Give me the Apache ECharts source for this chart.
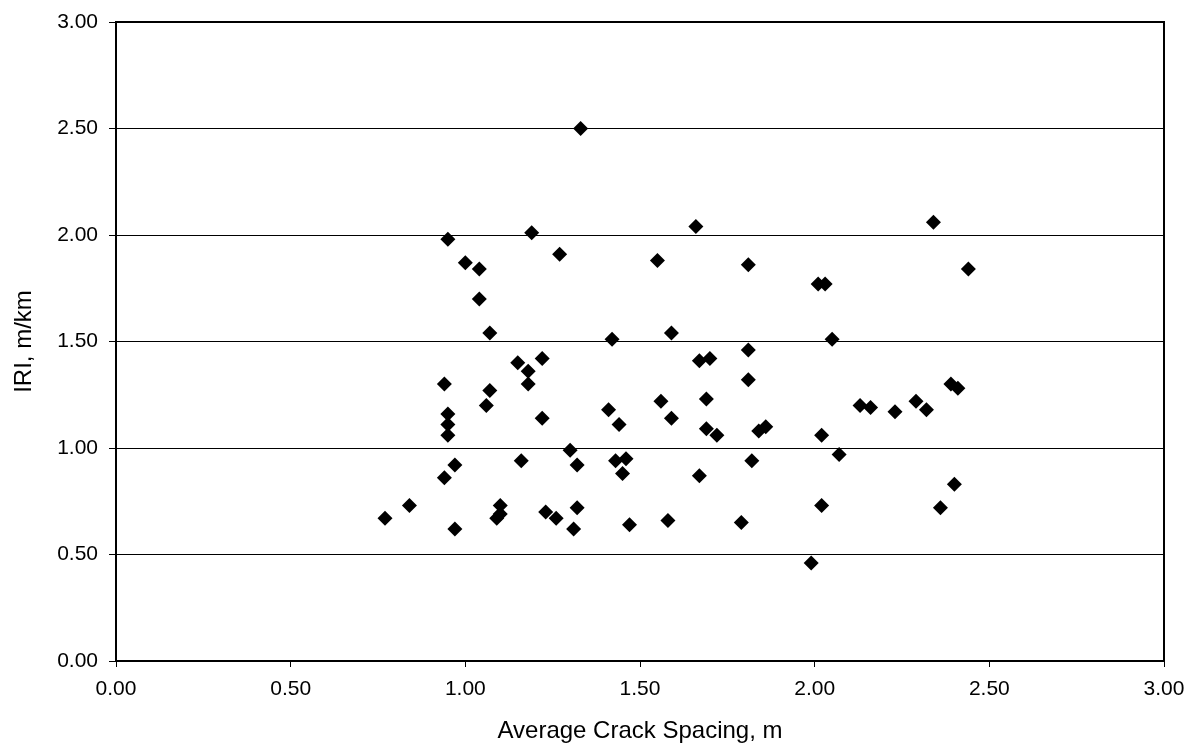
<!DOCTYPE html>
<html>
<head>
<meta charset="utf-8">
<script src="https://cdn.jsdelivr.net/npm/echarts@6/dist/echarts.min.js"></script>
<style>
  html, body { margin: 0; padding: 0; background: #fff; }
  #chart { width: 1192px; height: 748px; }
</style>
</head>
<body>
<div id="chart"></div>
<script>
// average crack spacing (m) and IRI (m/km)
var crackSpacing = [
  1.33, 0.95, 1.19, 1.27, 1.00, 1.04, 1.55, 1.04, 1.07, 1.42,
  1.59, 1.15, 1.22, 1.18, 1.18, 0.94, 1.07, 1.06, 0.95, 0.95,
  0.95, 1.22, 1.41, 1.44, 1.56, 1.59, 1.30, 1.16, 1.32, 0.97,
  0.94, 1.43, 1.46, 1.45, 0.84, 0.77, 0.97, 1.10, 1.10, 1.09,
  1.23, 1.26, 1.32, 1.31, 1.47, 1.58, 1.66, 2.34, 1.81, 2.01,
  2.03, 2.44, 1.81, 2.05, 1.67, 1.70, 1.81, 1.69, 1.69, 1.72,
  1.84, 1.86, 2.02, 2.13, 2.16, 2.23, 2.29, 2.32, 2.39, 2.41,
  2.07, 1.82, 1.67, 2.40, 2.02, 2.36, 1.79, 1.99
];
var iri = [
  2.50, 1.98, 2.01, 1.91, 1.87, 1.84, 1.88, 1.70, 1.54, 1.51,
  1.54, 1.40, 1.42, 1.36, 1.30, 1.30, 1.27, 1.20, 1.16, 1.11,
  1.06, 1.14, 1.18, 1.11, 1.22, 1.14, 0.99, 0.94, 0.92, 0.92,
  0.86, 0.94, 0.95, 0.88, 0.73, 0.67, 0.62, 0.73, 0.69, 0.67,
  0.70, 0.67, 0.72, 0.62, 0.64, 0.66, 2.04, 2.06, 1.86, 1.77,
  1.77, 1.84, 1.46, 1.51, 1.41, 1.42, 1.32, 1.23, 1.09, 1.06,
  1.08, 1.10, 1.06, 1.20, 1.19, 1.17, 1.22, 1.18, 1.30, 1.28,
  0.97, 0.94, 0.87, 0.83, 0.73, 0.72, 0.65, 0.46
];
var xTitle = 'Average Crack Spacing, m';
var yTitle = 'IRI, m/km';

var points = [];
for (var i = 0; i < crackSpacing.length; i++) {
  points.push([crackSpacing[i], iri[i]]);
}

var font = '"Liberation Sans", Arial, sans-serif';
var chart = echarts.init(document.getElementById('chart'), null, { renderer: 'canvas' });

var option = {
  backgroundColor: '#ffffff',
  animation: false,
  grid: {
    left: 116,
    right: 28,
    top: 22,
    bottom: 87,
    show: true,
    borderColor: '#000',
    borderWidth: 2,
    backgroundColor: 'transparent'
  },
  xAxis: {
    type: 'value',
    min: 0,
    max: 3,
    interval: 0.5,
    name: xTitle,
    nameLocation: 'middle',
    nameGap: 58,
    nameTextStyle: { color: '#000', fontSize: 24, fontFamily: font },
    axisLine: { show: true, lineStyle: { color: '#000', width: 2 } },
    axisTick: { show: true, inside: false, length: 6, lineStyle: { color: '#000', width: 1 } },
    axisLabel: {
      color: '#000', fontSize: 21, fontFamily: font, margin: 18,
      formatter: function (v) { return v.toFixed(2); }
    },
    splitLine: { show: false }
  },
  yAxis: {
    type: 'value',
    min: 0,
    max: 3,
    interval: 0.5,
    name: yTitle,
    nameLocation: 'middle',
    nameGap: 80,
    nameTextStyle: { color: '#000', fontSize: 24, fontFamily: font },
    axisLine: { show: true, lineStyle: { color: '#000', width: 2 } },
    axisTick: { show: true, inside: false, length: 7, lineStyle: { color: '#000', width: 1 } },
    axisLabel: {
      color: '#000', fontSize: 21, fontFamily: font, margin: 18,
      formatter: function (v) { return v.toFixed(2); }
    },
    splitLine: { show: true, lineStyle: { color: '#000', width: 1 } }
  },
  series: [
    {
      type: 'scatter',
      symbol: 'diamond',
      symbolSize: [15, 15],
      itemStyle: { color: '#000', opacity: 1 },
      data: points
    }
  ]
};

chart.setOption(option);
</script>
</body>
</html>
